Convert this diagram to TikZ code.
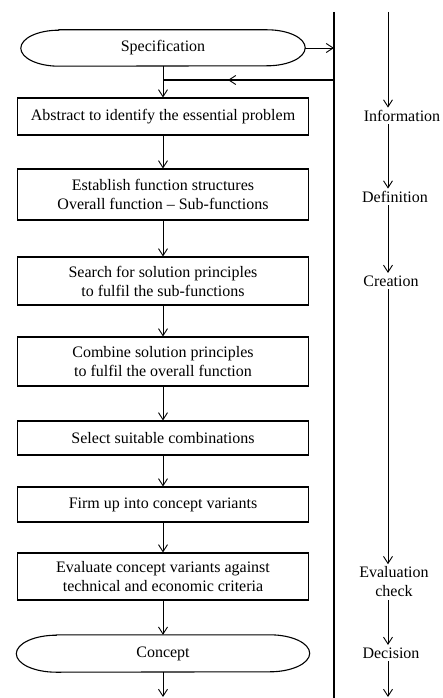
\documentclass[tikz,border=0pt]{standalone}
\usepackage{fontspec}
\setmainfont{Liberation Serif}
\usetikzlibrary{arrows.meta,calc}

\tikzset{
    process/.style = {
        rectangle, 
        minimum width=291pt, 
        minimum height=35pt, 
        align=center, 
        draw=black, 
        line width=1.1pt,
        fill=white
    },
    terminal/.style = {
        rectangle, 
        minimum width=284pt, 
        minimum height=36pt, 
        align=center
    },
    phase/.style = {
        align=center, 
        inner sep=2.5pt
    },
    arrow/.style = {
        line width=0.9pt, 
        -{Straight Barb[length=7pt,width=9pt]}
    }
}

\begin{document}
\begin{tikzpicture}[x=1pt, y=1pt, node distance=77pt, every node/.style={font=\fontsize{16}{19}\selectfont}] % 1pt = 1px

\useasboundingbox (0,0) rectangle (442,-698);

\node (spec) [terminal] at (163,-48) {Specification};
\node (abs) [process, below of=spec, yshift=8.5pt, minimum height=37pt] {Abstract to identify the essential problem};
\node (est) [process, below of=abs, yshift=-1pt, minimum height=51pt] {Establish function structures\\Overall function -- Sub-functions};
\node (search) [process, below of=est, yshift=-9.5pt, minimum height=48pt] {Search for solution principles\\to fulfil the sub-functions};
\node (comb) [process, below of=search, yshift=-3.5pt, minimum height=49pt] {Combine solution principles\\to fulfil the overall function};
\node (sel) [process, below of=comb, yshift=0.5pt, minimum height=34pt] {Select suitable combinations};
\node (firm) [process, below of=sel, yshift=10.5pt, minimum height=35pt] {Firm up into concept variants};
\node (eval) [process, below of=firm, yshift=5pt, minimum height=47pt] {Evaluate concept variants against\\technical and economic criteria};
\node (conc) [terminal, below of=eval, minimum width=293pt, minimum height=37pt] {Concept};
\coordinate (out) at (163,-697);

% outlines of the two terminals
\draw [line width=1.1pt] ([xshift=38pt]spec.north west) -- ([xshift=-38pt]spec.north east) arc[start angle=90, end angle=-90, x radius=38pt, y radius=18pt] -- ([xshift=38pt]spec.south west) arc[start angle=270, end angle=90, x radius=38pt, y radius=18pt] -- cycle;
\draw [line width=1.1pt] ([xshift=40pt]conc.north west) -- ([xshift=-40pt]conc.north east) arc[start angle=90, end angle=-90, x radius=40pt, y radius=18.5pt] -- ([xshift=40pt]conc.south west) arc[start angle=270, end angle=90, x radius=40pt, y radius=18.5pt] -- cycle;

% divider and feedback
\coordinate (vtop) at (334,-12);
\coordinate (vbot) at (334,-698);
\coordinate (fb) at (334,-80);
\coordinate (jn) at (spec |- fb);
\draw [line width=1.2pt] (vtop) -- (vbot);
\draw [line width=1.1pt] (fb) -- (jn);
\draw [arrow] (fb) -- ($(fb)!0.62!(jn)$);
\draw [arrow] (spec.east) -- (spec.east -| vtop);

% Arrows
\draw [arrow] (spec) -- (abs);
\draw [arrow] (abs) -- (est);
\draw [arrow] (est) -- (search);
\draw [arrow] (search) -- (comb);
\draw [arrow] (comb) -- (sel);
\draw [arrow] (sel) -- (firm);
\draw [arrow] (firm) -- (eval);
\draw [arrow] (eval) -- (conc);
\draw [arrow] (conc) -- (out);

% phases on the right
\coordinate (rtop) at (388,-12);
\coordinate (rbot) at (388,-697);
\node (info) [phase] at (402,-116) {Information};
\node (def) [phase] at (395,-197) {Definition};
\node (crea) [phase] at (391,-281) {Creation};
\node (evc) [phase] at (394,-582) {Evaluation\\check};
\node (dec) [phase] at (391,-653) {Decision};

\draw [arrow] (rtop) -- (rtop |- info.north);
\draw [arrow] (rtop |- info.south) -- (rtop |- def.north);
\draw [arrow] (rtop |- def.south) -- (rtop |- crea.north);
\draw [arrow] (rtop |- crea.south) -- (rtop |- evc.north);
\draw [arrow] (rtop |- evc.south) -- (rtop |- dec.north);
\draw [arrow] (rtop |- dec.south) -- (rbot);

\end{tikzpicture}
\end{document}
